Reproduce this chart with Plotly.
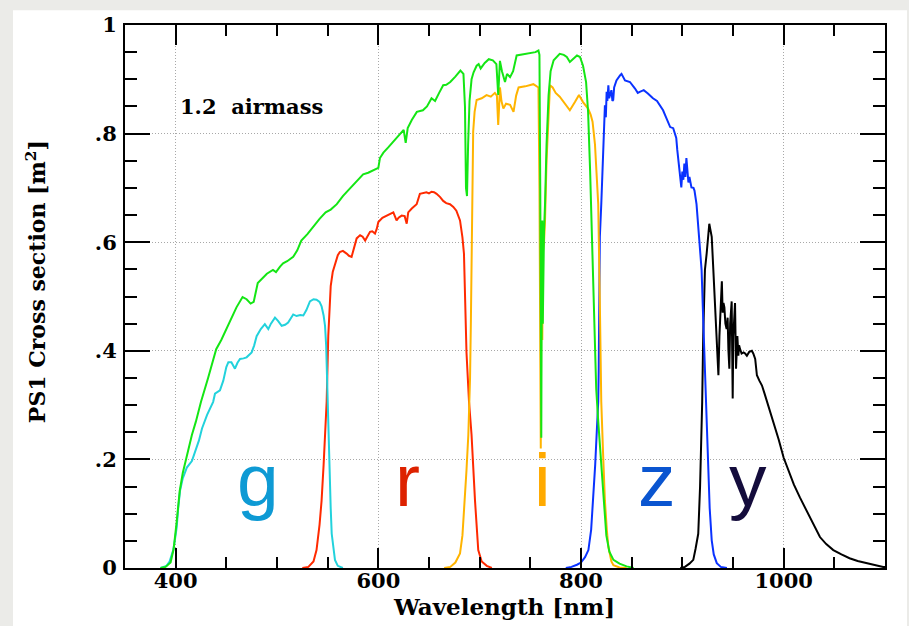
import plotly.graph_objects as go

# ---------------- data (wavelength nm, cross section m^2) ----------------
G_CURVE = [(385,0),(391,0.004),(394,0.012),(397.6,0.033),(399.5,0.055),(401,0.075),(402.5,0.11),(404.3,0.142),
    (407,0.165),(411,0.185),(416,0.197),(419.4,0.215),(423,0.235),(426,0.257),(431,0.282),(437,0.306),
    (438.8,0.321),(443.7,0.327),(447,0.345),(450,0.37),(452,0.379),(455,0.379),(458.5,0.367),(461,0.378),
    (463.5,0.385),(467,0.386),(470,0.388),(475,0.397),(477.5,0.41),(479.9,0.427),(484,0.44),(488,0.449),
    (491.4,0.44),(494,0.45),(498,0.461),(501,0.455),(504.6,0.446),(508,0.448),(511,0.452),(516,0.467),
    (519.3,0.464),(523,0.466),(526,0.465),(529,0.475),(532.5,0.491),(536,0.495),(539,0.494),(542,0.49),
    (544,0.482),(546,0.465),(547.4,0.446),(548.5,0.41),(549.3,0.35),(550,0.28),(551.5,0.185),(553,0.11),
    (554,0.063),(555.5,0.035),(557.2,0.015),(560,0.004),(565,0)]

R_CURVE = [(525,0),(531,0.002),(536,0.012),(539,0.033),(542,0.08),(544,0.124),(546,0.19),(547.4,0.245),
    (549,0.306),(550.6,0.427),(552,0.49),(553,0.519),(555,0.545),(557.2,0.561),(560,0.576),(562,0.582),
    (565,0.584),(568.7,0.579),(571,0.575),(573.6,0.573),(576,0.59),(578.6,0.607),(582,0.613),(584.5,0.61),
    (587,0.603),(589.5,0.612),(591.8,0.619),(594,0.62),(596.7,0.616),(598.5,0.625),(600,0.637),(604,0.645),
    (608,0.649),(611,0.652),(614.8,0.655),(618,0.64),(620,0.645),(623,0.649),(626,0.648),(628,0.634),
    (629.5,0.655),(633,0.662),(637.8,0.67),(641,0.689),(644,0.69),(647.5,0.692),(650,0.69),(652.5,0.693),
    (655,0.692),(657.5,0.689),(661,0.683),(664,0.676),(667,0.672),(670.7,0.67),(674,0.665),(677,0.658),
    (680.6,0.64),(683,0.609),(684.5,0.579),(685.5,0.488),(687,0.397),(689.5,0.306),(692,0.245),
    (695.4,0.124),(697,0.07),(698.6,0.033),(702,0.012),(707,0.004),(712,0)]

I_CURVE = [(665,0),(671,0.002),(676,0.01),(680.6,0.027),(683,0.06),(685.5,0.124),(687,0.18),(688.8,0.245),
    (690.5,0.35),(691.3,0.45),(692,0.6),(692.8,0.7),(693.6,0.804),(695,0.84),(697,0.862),(702,0.865),
    (706.8,0.871),(711,0.868),(715,0.875),(717,0.87),(718.3,0.816),(719.2,0.85),(720,0.885),(721.5,0.86),
    (723.4,0.846),(726,0.855),(730,0.853),(733.4,0.84),(736,0.87),(738.4,0.885),(745,0.887),(753,0.891),
    (758,0.885),(759,0.7),(759.8,0.35),(760.3,0.22),(760.8,0.5),(761.3,0.6),(761.8,0.42),(762.3,0.58),
    (763.5,0.6),(764.5,0.64),(766,0.75),(768,0.85),(769.4,0.889),(772,0.885),(775,0.875),(779,0.868),
    (784,0.855),(789,0.843),(794,0.858),(798,0.871),(802,0.858),(807,0.846),(809.5,0.835),(811.4,0.822),
    (813.8,0.78),(815.4,0.719),(817,0.67),(818.5,0.5),(820,0.306),(822,0.2),(823.6,0.124),(825.5,0.07),
    (827,0.039),(830,0.012),(832,0.005),(838,0.001),(845,0)]

Z_CURVE = [(785,0),(790.6,0.002),(796,0.006),(800,0.01),(804,0.02),(807.3,0.033),(810,0.07),(812,0.124),
    (814,0.19),(815.4,0.245),(817,0.306),(817.5,0.367),(818,0.488),(818.6,0.61),(820,0.67),(821,0.731),
    (822.4,0.78),(823,0.84),(823.6,0.852),(824.5,0.83),(825.3,0.877),(826,0.86),(827,0.889),(827.8,0.865),
    (828.6,0.871),(830,0.88),(831,0.86),(831.8,0.862),(832.7,0.885),(833.5,0.889),(835,0.898),(838.5,0.907),
    (840,0.91),(843.4,0.898),(848.3,0.895),(853.3,0.883),(856,0.875),(858,0.877),(861.9,0.88),(866,0.874),
    (871,0.865),(875,0.86),(878,0.852),(881,0.843),(883,0.834),(886,0.819),(888,0.812),(891,0.81),
    (893,0.8),(894,0.792),(895,0.77),(896,0.755),(897,0.74),(898,0.72),(899,0.701),(900,0.73),(901,0.715),
    (902,0.745),(903,0.72),(904,0.755),(905,0.73),(906,0.71),(907,0.72),(909,0.701),(911,0.7),(912,0.695),
    (914,0.67),(916.6,0.61),(919,0.549),(920.6,0.458),(922.3,0.367),(923.3,0.306),(924,0.26),(925.6,0.185),
    (927,0.11),(929,0.051),(931,0.025),(934,0.009),(938,0.002),(944,0)]

Y_CURVE = [(898,0),(902.6,0.002),(907,0.008),(910.8,0.015),(913,0.035),(915.7,0.063),(917.5,0.15),(919,0.245),
    (919.6,0.306),(920.6,0.427),(922.3,0.549),(924,0.579),(925.5,0.61),(926.6,0.634),(927.5,0.625),(929,0.61),
    (930.6,0.549),(932.3,0.488),(933.2,0.44),(934,0.41),(935,0.38),(935.6,0.355),(936.6,0.427),(937.5,0.46),
    (938.3,0.5),(939,0.528),(939.8,0.47),(940.6,0.488),(941.5,0.48),(942.5,0.45),(943.7,0.44),(944.7,0.461),
    (945.5,0.4),(946.4,0.367),(947.2,0.45),(948,0.488),(948.7,0.491),(949.2,0.4),(949.7,0.312),(950.3,0.427),
    (951,0.46),(952,0.488),(953,0.367),(954.3,0.427),(955.3,0.391),(956,0.41),(957,0.403),(958.5,0.395),
    (960.4,0.397),(962,0.395),(963.7,0.391),(966,0.398),(968.6,0.4),(970,0.395),(971.9,0.385),(973.6,0.355),
    (976,0.345),(978.6,0.336),(981,0.322),(983.6,0.306),(987,0.288),(990.2,0.27),(995,0.237),(1000,0.203),
    (1005,0.178),(1010,0.154),(1016,0.13),(1022.5,0.106),(1029,0.08),(1035.8,0.057),(1042,0.044),
    (1049,0.033),(1057,0.025),(1065,0.018),(1073,0.013),(1081.8,0.009),(1090,0.005),(1098.2,0.002),(1100,0.002)]

W_CURVE = [(385,0),(390,0.002),(395,0.01),(398,0.035),(401,0.085),(404,0.142),(407,0.175),(410,0.2),
    (416,0.245),(420,0.27),(425,0.306),(432,0.35),(440,0.403),(445,0.42),(450,0.44),(455,0.46),(460,0.48),
    (466,0.499),(470,0.495),(474,0.487),(477,0.49),(481,0.525),(486,0.535),(490,0.542),(496,0.549),
    (499,0.545),(503,0.555),(506,0.561),(510,0.565),(516,0.573),(520,0.585),(524,0.603),(530,0.615),
    (536,0.63),(542,0.643),(548,0.655),(553,0.66),(559,0.67),(565,0.685),(570,0.695),(575,0.705),
    (580,0.715),(585,0.725),(590,0.728),(595,0.733),(600,0.737),(601.6,0.755),(605,0.765),(610,0.775),
    (615,0.786),(620,0.795),(625,0.807),(627,0.783),(629,0.81),(633,0.825),(638,0.84),(644,0.843),
    (648,0.85),(652.5,0.865),(656,0.86),(660,0.875),(664,0.889),(667,0.89),(671,0.895),(676,0.905),
    (681,0.916),(684,0.91),(685.5,0.85),(686.5,0.70),(687.5,0.685),(688.6,0.78),(690,0.86),(692,0.9),
    (694,0.913),(697,0.925),(699,0.928),(701,0.92),(705,0.93),(709,0.937),(713,0.935),(716.5,0.928),
    (718.3,0.871),(720,0.934),(722,0.915),(725,0.895),(727,0.91),(730,0.904),(733,0.915),(736.5,0.944),
    (740,0.945),(745,0.947),(750,0.948),(755,0.95),(758,0.953),(759,0.945),(759.8,0.7),(760.3,0.35),
    (760.8,0.24),(761.3,0.55),(761.8,0.64),(762.3,0.45),(762.8,0.6),(763.5,0.62),(764.5,0.67),(766,0.78),
    (768,0.87),(770,0.915),(773,0.935),(779,0.947),(783,0.945),(786,0.941),(789,0.932),(793,0.94),
    (796,0.944),(799,0.941),(802,0.925),(805,0.895),(807,0.84),(809,0.731),(811,0.6),(812,0.488),
    (813.5,0.4),(815,0.33),(817,0.27),(820,0.185),(823,0.1),(825,0.06),(828,0.03),(832,0.015),
    (838,0.008),(845,0.003),(852,0)]

SERIES = [  # (curve, color) in drawing order
    (Y_CURVE, "#000000"),
    (Z_CURVE, "#0a32ff"),
    (R_CURVE, "#ff2a00"),
    (I_CURVE, "#ffb400"),
    (G_CURVE, "#22d2dc"),
    (W_CURVE, "#14e614"),
]

BAND_LABELS = ["g", "r", "i", "z", "y"]
BAND_X = [481, 629, 762, 875, 965]
BAND_COLORS = ["#0e9ad4", "#dd2200", "#ffaa00", "#0a55d0", "#140c3c"]

X_TICKS = [400, 600, 800, 1000]
Y_TICKS = [0, 0.2, 0.4, 0.6, 0.8, 1.0]
Y_TICKTEXT = ["0", ".2", ".4", ".6", ".8", "1"]

# ---------------- figure ----------------
fig = go.Figure()
for curve, color in SERIES:
    fig.add_trace(go.Scatter(
        x=[p[0] for p in curve], y=[p[1] for p in curve], mode="lines",
        line=dict(color=color, width=2), showlegend=False, hoverinfo="skip"))

W, H = 909, 626
L, R, T, B = 125, 24, 19, 58
pw, ph = W - L - R, H - T - B

def px2paper_x(px):
    return (px - L) / pw

def px2paper_y(py):
    return (H - B - py) / ph

SERIF = "DejaVu Serif"
tick_font = dict(family=SERIF, size=21, color="black", weight="bold")

fig.update_layout(
    width=W, height=H,
    margin=dict(l=L, r=R, t=T, b=B, pad=0),
    paper_bgcolor="#ebebe8",
    plot_bgcolor="white",
    showlegend=False,
    xaxis=dict(
        range=[350, 1100], tickvals=X_TICKS, ticktext=[str(v) for v in X_TICKS],
        ticks="inside", ticklen=20, tickwidth=2, tickcolor="black",
        showline=True, linewidth=2, linecolor="black", mirror="ticks",
        showgrid=True, gridcolor="#a8a8a8", griddash="1px,2px", gridwidth=1,
        zeroline=False, tickfont=tick_font, ticklabelstandoff=-7,
        minor=dict(dtick=50, tick0=350, ticks="inside", ticklen=11, tickwidth=2,
                   tickcolor="black", showgrid=False),
    ),
    yaxis=dict(
        range=[0, 1], tickvals=Y_TICKS, ticktext=Y_TICKTEXT,
        ticks="inside", ticklen=25, tickwidth=2, tickcolor="black",
        showline=True, linewidth=2, linecolor="black", mirror="ticks",
        showgrid=True, gridcolor="#a8a8a8", griddash="1px,2px", gridwidth=1,
        zeroline=False, tickfont=tick_font, ticklabelstandoff=2,
        minor=dict(dtick=0.05, tick0=0, ticks="inside", ticklen=12, tickwidth=2,
                   tickcolor="black", showgrid=False),
    ),
)

# white panel behind the chart
fig.add_shape(type="rect", xref="paper", yref="paper", layer="below",
              x0=px2paper_x(13), x1=px2paper_x(907), y0=px2paper_y(H + 2), y1=px2paper_y(4),
              fillcolor="white", line=dict(width=0))

# axis titles
fig.add_annotation(xref="paper", yref="paper", x=px2paper_x(504), y=px2paper_y(607),
                   text="Wavelength [nm]", showarrow=False, xanchor="center", yanchor="middle",
                   font=dict(family=SERIF, size=23, color="black", weight="bold"))
fig.add_annotation(xref="paper", yref="paper", x=px2paper_x(36), y=px2paper_y(279),
                   text="PS1 Cross section [m<sup>2</sup>]", showarrow=False, textangle=-90,
                   xanchor="center", yanchor="middle",
                   font=dict(family=SERIF, size=22, color="black", weight="bold"))

# airmass note
fig.add_annotation(x=402, y=0.849, xref="x", yref="y", text="1.2\u00a0\u00a0airmass", showarrow=False,
                   xanchor="left", yanchor="middle",
                   font=dict(family=SERIF, size=21, color="black", weight="bold"))

# band letters
for lab, bx, col in zip(BAND_LABELS, BAND_X, BAND_COLORS):
    fig.add_annotation(x=bx, y=0.162, xref="x", yref="y", text=lab, showarrow=False,
                       xanchor="center", yanchor="middle",
                       font=dict(family="Liberation Sans", size=75, color=col))

fig.write_html("out.html")
